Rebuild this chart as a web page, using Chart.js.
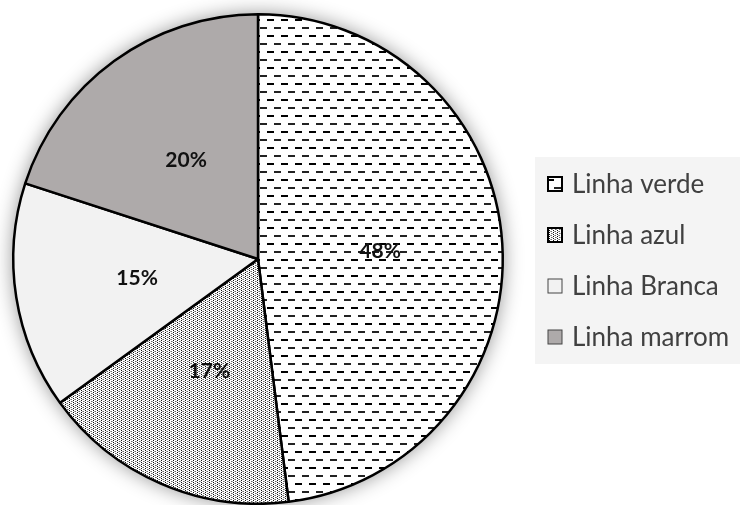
<!DOCTYPE html>
<html>
<head>
<meta charset="utf-8">
<script src="https://cdn.jsdelivr.net/npm/chart.js@4"></script>
<style>
  html, body { margin: 0; padding: 0; background: #fff; }
  #chart { display: block; }
</style>
</head>
<body>
<canvas id="chart" width="740" height="505"></canvas>
<script>
// Participação de cada linha
const linhas = ['Linha verde', 'Linha azul', 'Linha Branca', 'Linha marrom'];
const percentuais = [48, 17, 15, 20];

// hachura de traços horizontais
function tracejado() {
    const c = document.createElement('canvas');
    c.width = 14; c.height = 16;
    const g = c.getContext('2d');
    g.fillStyle = '#fff';
    g.fillRect(0, 0, 14, 16);
    g.fillStyle = '#000';
    g.fillRect(1, 3, 7, 2);
    g.fillStyle = '#222';
    g.fillRect(8, 11, 6, 2);
    g.fillRect(0, 11, 1, 2);
    return g.createPattern(c, 'repeat');
}

// pontilhado fino
function pontilhado() {
    const c = document.createElement('canvas');
    c.width = 4; c.height = 4;
    const g = c.getContext('2d');
    g.fillStyle = '#fff';
    g.fillRect(0, 0, 4, 4);
    g.fillStyle = '#111';
    g.fillRect(1, 0, 1, 1);
    g.fillRect(1, 2, 1, 1);
    g.fillStyle = '#666';
    g.fillRect(3, 1, 1, 1);
    g.fillRect(3, 3, 1, 1);
    g.fillStyle = '#aaa';
    g.fillRect(0, 1, 1, 1);
    g.fillRect(2, 3, 1, 1);
    return g.createPattern(c, 'repeat');
}

const cores = [tracejado(), pontilhado(), '#f2f2f2', '#aeaaaa'];

// sombra difusa em volta da pizza
const sombra = {
    id: 'sombra',
    beforeDatasetsDraw(chart) {
        const arc = chart.getDatasetMeta(0).data[0];
        if (!arc) return;
        const ctx = chart.ctx;
        ctx.save();
        ctx.shadowColor = 'rgba(0,0,0,0.45)';
        ctx.shadowBlur = 20;
        ctx.beginPath();
        ctx.arc(arc.x, arc.y, arc.outerRadius, 0, Math.PI * 2);
        ctx.fillStyle = '#fff';
        ctx.fill();
        ctx.restore();
    }
};

// rótulos de porcentagem
const rotulos = {
    id: 'rotulos',
    afterDatasetsDraw(chart) {
        const ctx = chart.ctx;
        const meta = chart.getDatasetMeta(0);
        ctx.save();
        ctx.font = 'bold 21px Lato';
        ctx.fillStyle = '#111';
        ctx.textAlign = 'center';
        ctx.textBaseline = 'middle';
        meta.data.forEach((arc, i) => {
            const p = arc.tooltipPosition();
            ctx.fillText(percentuais[i] + '%', p.x, p.y);
        });
        ctx.restore();
    }
};

// legenda à direita com fundo cinza claro
const legenda = {
    id: 'legenda',
    beforeDraw(chart) {
        const ctx = chart.ctx;
        ctx.save();
        ctx.fillStyle = '#f4f4f4';
        ctx.fillRect(535, 157, 205, 207);
        ctx.restore();
    },
    afterDraw(chart) {
        const ctx = chart.ctx;
        ctx.save();
        ctx.font = '26px Lato';
        ctx.textBaseline = 'middle';
        linhas.forEach((nome, i) => {
            const y = 184 + i * 51;
            ctx.fillStyle = cores[i];
            ctx.fillRect(548, y - 7, 14, 14);
            ctx.strokeStyle = i < 2 ? '#000' : '#444';
            ctx.lineWidth = i < 2 ? 2 : 1;
            ctx.strokeRect(548, y - 7, 14, 14);
            ctx.fillStyle = '#404040';
            ctx.fillText(nome, 572, y + 1);
        });
        ctx.restore();
    }
};

new Chart(document.getElementById('chart'), {
    type: 'pie',
    data: {
        labels: linhas,
        datasets: [{
            data: percentuais,
            backgroundColor: cores,
            borderColor: '#000',
            borderWidth: 2.5,
        }]
    },
    options: {
        responsive: false,
        animation: false,
        layout: {
            padding: { top: 13, bottom: 0, left: 12, right: 236 }
        },
        plugins: {
            legend: { display: false },
            tooltip: { enabled: false }
        }
    },
    plugins: [sombra, rotulos, legenda]
});
</script>
</body>
</html>
